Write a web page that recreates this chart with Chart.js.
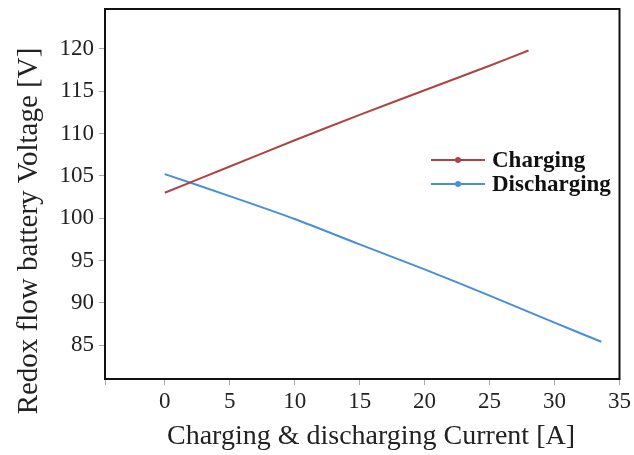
<!DOCTYPE html>
<html>
<head>
<meta charset="utf-8">
<script src="https://cdn.jsdelivr.net/npm/chart.js@4.4.1/dist/chart.umd.min.js"></script>
<style>
  html, body { margin: 0; padding: 0; background: #fff; }
  #wrap { width: 634px; height: 455px; position: relative; }
</style>
</head>
<body>
<div id="wrap"><canvas id="chart"></canvas></div>
<script>
// values
const chargingCurrent = [0, 5, 10, 15, 20, 25, 28];
const chargingVoltage = [103.0, 106.1, 109.2, 112.2, 115.1, 118.0, 119.8];
const dischargingCurrent = [0, 5, 10, 15, 20, 25, 30, 33.6];
const dischargingVoltage = [105.2, 102.6, 99.9, 96.9, 93.95, 90.85, 87.65, 85.4];
const seriesNames = ['Charging', 'Discharging'];
const seriesColors = ['#ae4444', '#4a8fd6'];
const xTicks = [-4.6, 0, 5, 10, 15, 20, 25, 30, 35];
const yTicks = [85, 90, 95, 100, 105, 110, 115, 120];
const xTitle = 'Charging & discharging Current [A]';
const yTitle = 'Redox flow battery Voltage [V]';

const serif = "'Liberation Serif', 'DejaVu Serif', serif";

function toPoints(xs, ys) {
  return xs.map((x, i) => ({ x: x, y: ys[i] }));
}

// box around the plot, axis titles, legend with line and dot
const boxAndLegend = {
  id: 'boxAndLegend',
  afterDraw(chart) {
    const ctx = chart.ctx;
    const a = chart.chartArea;
    ctx.save();
    ctx.strokeStyle = '#111';
    ctx.lineWidth = 2;
    ctx.strokeRect(a.left, a.top, a.right - a.left, a.bottom - a.top);

    ctx.font = "28px " + serif;
    ctx.fillStyle = '#222';
    ctx.textAlign = 'center';
    ctx.textBaseline = 'middle';
    ctx.fillText(xTitle, a.left + 266, a.bottom + 58);

    ctx.save();
    ctx.translate(29, a.top + 222);
    ctx.rotate(-Math.PI / 2);
    ctx.font = "29px " + serif;
    ctx.fillText(yTitle, 0, 0);
    ctx.restore();

    const x0 = a.left + 326;
    const rows = [a.top + 151, a.top + 175];
    ctx.font = "bold 23px " + serif;
    ctx.textAlign = 'left';
    rows.forEach((y, i) => {
      ctx.strokeStyle = seriesColors[i];
      ctx.lineWidth = 2;
      ctx.beginPath();
      ctx.moveTo(x0, y);
      ctx.lineTo(x0 + 54, y);
      ctx.stroke();
      ctx.fillStyle = seriesColors[i];
      ctx.beginPath();
      ctx.arc(x0 + 27, y, 3, 0, Math.PI * 2);
      ctx.fill();
      ctx.fillStyle = '#111';
      ctx.fillText(seriesNames[i], x0 + 61, y + 1);
    });
    ctx.restore();
  }
};

new Chart(document.getElementById('chart'), {
  type: 'line',
  data: {
    datasets: [
      {
        label: seriesNames[0],
        data: toPoints(chargingCurrent, chargingVoltage),
        borderColor: seriesColors[0],
        borderWidth: 2,
        pointRadius: 0,
        tension: 0.3,
        fill: false
      },
      {
        label: seriesNames[1],
        data: toPoints(dischargingCurrent, dischargingVoltage),
        borderColor: seriesColors[1],
        borderWidth: 2,
        pointRadius: 0,
        tension: 0.3,
        fill: false
      }
    ]
  },
  options: {
    responsive: true,
    maintainAspectRatio: false,
    animation: false,
    layout: { padding: { left: 0, right: 14, top: 0, bottom: 0 } },
    plugins: {
      legend: { display: false },
      tooltip: { enabled: false }
    },
    scales: {
      x: {
        type: 'linear',
        min: -4.6,
        max: 35,
        afterBuildTicks: (s) => { s.ticks = xTicks.map(v => ({ value: v })); },
        ticks: {
          color: '#222',
          font: { family: serif, size: 23 },
          padding: 3,
          maxRotation: 0,
          autoSkip: false,
          callback: (v) => (Math.abs(v % 5) < 1e-6 ? v : '')
        },
        grid: { drawOnChartArea: false, tickLength: 6, color: '#aaa' },
        border: { display: false },
        afterFit: (s) => { s.height = 76; }
      },
      y: {
        min: 81,
        max: 124.7,
        afterBuildTicks: (s) => { s.ticks = yTicks.map(v => ({ value: v })); },
        ticks: {
          color: '#222',
          font: { family: serif, size: 23 },
          padding: 5
        },
        grid: { drawOnChartArea: false, tickLength: 6, color: '#aaa' },
        border: { display: false },
        afterFit: (s) => { s.width = 105; s.paddingTop = 9; }
      }
    }
  },
  plugins: [boxAndLegend]
});
</script>
</body>
</html>
